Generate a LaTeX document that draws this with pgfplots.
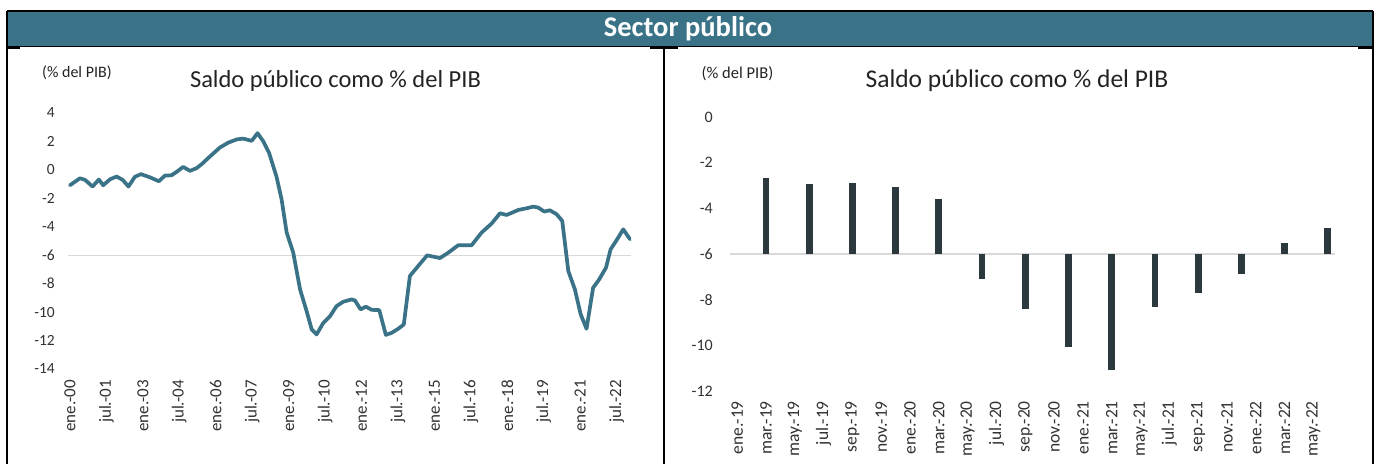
\documentclass[border=0pt]{standalone}
\usepackage{fontspec}
\setmainfont{Carlito}
\usepackage{pgfplots}
\pgfplotsset{compat=1.18}

\definecolor{teal}{RGB}{58,115,135}
\definecolor{barcol}{RGB}{43,56,61}
\definecolor{tickcol}{RGB}{50,50,50}
\definecolor{titlecol}{RGB}{35,35,35}
\definecolor{gridcol}{RGB}{217,217,217}

\pgfplotsset{
  panel/.style={
    scale only axis,
    axis line style={draw=none},
    major tick length=0pt,
    /pgf/number format/assume math mode=true,
    ticklabel style={text=tickcol},
    yticklabel style={inner sep=0pt},
    xticklabel style={rotate=90, anchor=east, inner sep=0pt},
    extra y ticks={-6},
    extra y tick labels={},
    extra y tick style={grid=major, major grid style={color=gridcol, line width=1.2bp}},
  }
}

\begin{document}
\begin{tikzpicture}[x=1bp, y=1bp]
\path[use as bounding box, fill=white] (0bp,0bp) rectangle (1376bp,464bp);

% header band (y measured from the bottom of the page)
\fill[teal] (7,417) rectangle (1373,453);
\draw[black, line width=1.5bp] (7,453) -- (1373,453);
\draw[black, line width=1bp] (7,417) -- (1373,417);
\draw[black, line width=2bp] (7,416) -- (20,416) (650,416) -- (678,416) (1358,416) -- (1373,416);
\draw[black, line width=2bp] (7,453) -- (7,0) (1373,453) -- (1373,0) (664,417) -- (664,0);
\node[anchor=base, text=white, font=\fontsize{28.5bp}{31bp}\selectfont\bfseries] at (688,427.5) {Sector público};

% left panel titles
\node[anchor=base west, inner sep=0pt, text=titlecol, font=\fontsize{16bp}{19bp}\selectfont] at (42,387) {(\% del PIB)};
\node[anchor=base, inner sep=0pt, text=titlecol, font=\fontsize{24.5bp}{28bp}\selectfont] at (335.5,377) {Saldo público como \% del PIB};
% right panel titles
\node[anchor=base west, inner sep=0pt, text=titlecol, font=\fontsize{16.5bp}{19bp}\selectfont] at (701.5,385.5) {(\% del PIB)};
\node[anchor=base, inner sep=0pt, text=titlecol, font=\fontsize{25.5bp}{29bp}\selectfont] at (1017,377) {Saldo público como \% del PIB};

% left chart: line
\begin{axis}[panel,
  at={(68bp,95bp)}, anchor=south west,
  width=563bp, height=256bp,
  xmin=-0.08, xmax=23.09, ymin=-14, ymax=4,
  ytick={-14,-12,...,4},
  xtick={0,1.5,...,22.5},
  xticklabels={ene.-00,jul.-01,ene.-03,jul.-04,ene.-06,jul.-07,ene.-09,jul.-10,ene.-12,jul.-13,ene.-15,jul.-16,ene.-18,jul.-19,ene.-21,jul.-22},
  yticklabel style={font=\fontsize{15.5bp}{18bp}\selectfont},
  xticklabel style={font=\fontsize{17bp}{19bp}\selectfont},
  yticklabel shift=13bp,
  xticklabel shift=11bp,
]
\addplot[color=teal, line width=3.7bp, line join=round, line cap=round] coordinates {
(0,-1.08)(0.41,-0.59)(0.62,-0.7)(0.93,-1.17)(1.19,-0.68)(1.37,-1.08)(1.65,-0.66)(1.92,-0.47)
(2.17,-0.7)(2.41,-1.17)(2.67,-0.49)(2.92,-0.3)(3.29,-0.52)(3.66,-0.8)(3.91,-0.4)(4.18,-0.38)
(4.39,-0.14)(4.66,0.21)(4.94,-0.07)(5.21,0.12)(5.42,0.4)(5.76,0.94)(6.17,1.57)(6.52,1.92)
(6.86,2.14)(7.13,2.2)(7.48,2.04)(7.72,2.58)(7.96,2.0)(8.2,1.17)(8.5,-0.47)(8.71,-2.07)
(8.92,-4.41)(9.19,-5.82)(9.47,-8.4)(9.74,-9.93)(9.95,-11.22)(10.15,-11.57)(10.43,-10.75)
(10.7,-10.3)(10.97,-9.58)(11.25,-9.27)(11.59,-9.11)(11.73,-9.18)(11.96,-9.81)(12.18,-9.62)
(12.42,-9.84)(12.73,-9.86)(13.0,-11.6)(13.24,-11.46)(13.51,-11.17)(13.74,-10.87)(13.99,-7.46)
(14.33,-6.76)(14.7,-6.01)(15.23,-6.2)(15.57,-5.82)(15.98,-5.3)(16.53,-5.3)(16.94,-4.41)
(17.35,-3.78)(17.7,-3.05)(17.97,-3.17)(18.45,-2.82)(18.79,-2.7)(19.07,-2.58)(19.27,-2.65)
(19.52,-2.93)(19.75,-2.84)(20.03,-3.12)(20.26,-3.59)(20.51,-7.11)(20.78,-8.4)(21.02,-10.16)
(21.26,-11.17)(21.53,-8.29)(21.78,-7.7)(22.06,-6.88)(22.25,-5.59)(22.52,-4.88)(22.77,-4.18)
(23.05,-4.88)
};
\end{axis}

% right chart: bars from the -6 line
\begin{axis}[panel,
  at={(730bp,73bp)}, anchor=south west,
  width=605bp, height=274bp,
  xmin=-0.5, xmax=41.5, ymin=-12, ymax=0,
  ytick={-12,-10,...,0},
  xtick={0,2,...,40},
  xticklabels={ene.-19,mar.-19,may.-19,jul.-19,sep.-19,nov.-19,ene.-20,mar.-20,may.-20,jul.-20,sep.-20,nov.-20,ene.-21,mar.-21,may.-21,jul.-21,sep.-21,nov.-21,ene.-22,mar.-22,may.-22},
  yticklabel style={font=\fontsize{16bp}{19bp}\selectfont},
  xticklabel style={font=\fontsize{17.5bp}{20bp}\selectfont},
  yticklabel shift=17bp,
  xticklabel shift=10bp,
  unbounded coords=jump,
]
\addplot[color=barcol, line width=6.8bp, line cap=butt] coordinates {
(2,-6)(2,-2.65)(2,nan)
(5,-6)(5,-2.94)(5,nan)
(8,-6)(8,-2.88)(8,nan)
(11,-6)(11,-3.08)(11,nan)
(14,-6)(14,-3.58)(14,nan)
(17,-6)(17,-7.1)(17,nan)
(20,-6)(20,-8.4)(20,nan)
(23,-6)(23,-10.08)(23,nan)
(26,-6)(26,-11.1)(26,nan)
(29,-6)(29,-8.32)(29,nan)
(32,-6)(32,-7.71)(32,nan)
(35,-6)(35,-6.88)(35,nan)
(38,-6)(38,-5.5)(38,nan)
(41,-6)(41,-4.87)
};
\end{axis}
\end{tikzpicture}
\end{document}
